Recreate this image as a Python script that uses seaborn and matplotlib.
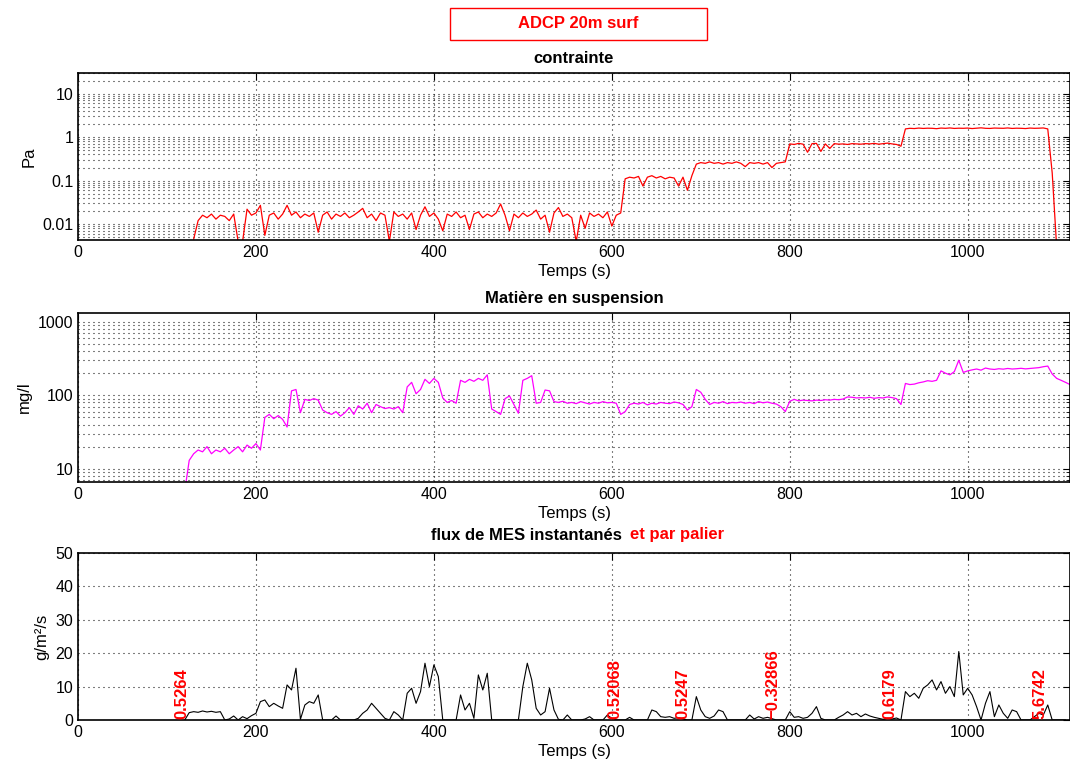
import numpy as np
import seaborn as sns
import matplotlib
matplotlib.use("Agg")
import matplotlib.pyplot as plt
from matplotlib.patches import Rectangle
from matplotlib.ticker import FixedLocator, LogLocator, NullFormatter, FuncFormatter, MultipleLocator

# ---- données (pas de 5 s) ----
# contrainte (Pa), t = 130 .. 1100 s
stress_t0 = 130
stress = [
    0.0045, 0.012, 0.016, 0.014, 0.017, 0.013, 0.016, 0.015, 0.012, 0.017,   # 130
    0.004, 0.004, 0.022, 0.016, 0.018, 0.027, 0.0055, 0.016, 0.018, 0.013,   # 180
    0.017, 0.027, 0.016, 0.019, 0.014, 0.017, 0.015, 0.018, 0.0065, 0.016,   # 230
    0.019, 0.013, 0.017, 0.015, 0.018, 0.014, 0.016, 0.019, 0.023, 0.014,    # 280
    0.017, 0.012, 0.018, 0.016, 0.004, 0.019, 0.015, 0.017, 0.013, 0.018,    # 330
    0.0075, 0.016, 0.025, 0.015, 0.018, 0.013, 0.007, 0.017, 0.015, 0.019,   # 380
    0.014, 0.016, 0.0075, 0.017, 0.019, 0.014, 0.017, 0.015, 0.018, 0.029,   # 430
    0.016, 0.007, 0.017, 0.014, 0.018, 0.015, 0.017, 0.021, 0.013, 0.016,    # 480
    0.0065, 0.018, 0.024, 0.015, 0.017, 0.014, 0.004, 0.016, 0.008, 0.018,   # 530
    0.015, 0.017, 0.014, 0.019, 0.009, 0.016, 0.018, 0.11, 0.12, 0.115,      # 580
    0.125, 0.075, 0.12, 0.13, 0.115, 0.125, 0.11, 0.12, 0.115, 0.075,        # 630
    0.12, 0.06, 0.13, 0.24, 0.26, 0.25, 0.27, 0.25, 0.26, 0.24,              # 680
    0.26, 0.25, 0.27, 0.25, 0.21, 0.26, 0.25, 0.26, 0.24, 0.26,              # 730
    0.20, 0.25, 0.26, 0.27, 0.70, 0.68, 0.72, 0.69, 0.45, 0.71,              # 780
    0.72, 0.47, 0.70, 0.55, 0.71, 0.69, 0.70, 0.68, 0.71, 0.70,              # 830
    0.69, 0.71, 0.70, 0.72, 0.69, 0.71, 0.73, 0.70, 0.68, 0.62,              # 880
    1.55, 1.60, 1.58, 1.62, 1.59, 1.61, 1.60, 1.57, 1.62, 1.60,              # 930
    1.63, 1.59, 1.61, 1.60, 1.62, 1.58, 1.61, 1.64, 1.60, 1.59,              # 980
    1.62, 1.61, 1.60, 1.63, 1.59, 1.61, 1.60, 1.58, 1.62, 1.60,              # 1030
    1.61, 1.63, 1.55, 0.15, 0.003,                                           # 1080
]

# matière en suspension (mg/l), t = 120 .. 1115 s
mes_t0 = 120
mes = [
    5, 13, 16, 18, 17, 20, 16, 18, 17, 19,            # 120
    16, 18, 20, 17, 21, 19, 22, 18, 50, 55,           # 170
    48, 53, 47, 37, 115, 120, 58, 88, 85, 90,         # 220
    86, 63, 58, 55, 60, 52, 58, 68, 55, 72,           # 270
    65, 78, 58, 75, 70, 66, 68, 65, 70, 58,           # 320
    130, 150, 105, 120, 165, 145, 170, 150, 92, 80,   # 370
    85, 78, 160, 150, 165, 155, 170, 160, 190, 65,    # 420
    60, 55, 90, 98, 75, 57, 160, 170, 185, 78,        # 470
    80, 118, 115, 82, 80, 83, 78, 80, 77, 82,         # 520
    79, 76, 80, 78, 82, 79, 80, 78, 55, 60,           # 570
    75, 78, 76, 80, 74, 78, 76, 80, 78, 77,           # 620
    81, 79, 75, 63, 70, 120, 110, 88, 75, 80,         # 670
    78, 82, 77, 80, 79, 81, 78, 80, 77, 82,           # 720
    79, 81, 78, 76, 70, 60, 83, 88, 84, 86,           # 770
    85, 84, 86, 85, 87, 86, 88, 87, 89, 95,           # 820
    94, 92, 93, 92, 94, 91, 93, 92, 95, 93,           # 870
    90, 75, 145, 140, 142, 148, 152, 158, 155, 160,   # 920
    215, 200, 190, 210, 300, 205, 215, 222, 228, 220, # 970
    235, 228, 225, 230, 227, 232, 228, 230, 233, 229, # 1020
    232, 235, 238, 245, 250, 195, 170, 160, 150, 140, # 1070
]

# flux de MES (g/m²/s), t = 120 .. 1110 s
flux_t0 = 120
flux = [
    0, 2.2, 2.5, 2.3, 2.7, 2.4, 2.6, 2.3, 2.5, 0,             # 120
    0.3, 1.2, 0, 1.0, 0.4, 1.3, 2.0, 5.5, 6.0, 4.0,           # 170
    5.0, 4.2, 3.5, 10.5, 9.0, 15.5, 0.2, 4.5, 5.5, 5.0,       # 220
    7.5, 0, 0, 0, 1.2, 0, 0, 0, 0, 0.5,                       # 270
    2.0, 3.0, 5.0, 3.5, 2.0, 0.5, 0, 2.5, 1.5, 0,             # 320
    8.0, 9.5, 5.0, 8.5, 17.0, 10.0, 16.5, 13.0, 0, 0,         # 370
    0, 0, 7.5, 3.0, 5.0, 0.5, 13.5, 9.0, 14.0, 0,             # 420
    0, 0, 0, 0, 0, 0, 10.0, 17.0, 12.0, 3.5,                  # 470
    1.5, 2.5, 9.5, 3.0, 0.2, 0, 1.5, 0, 0, 0,                 # 520
    0.3, 1.0, 0, 0, 0, 1.5, 0.5, 0, 0, 0,                     # 570
    0.8, 0, 0, 0, 0, 3.0, 2.5, 1.0, 0.8, 1.0,                 # 620
    0.5, 0.7, 0.3, 0, 0, 7.0, 3.0, 1.0, 0.5, 1.2,             # 670
    3.0, 2.5, 0, 0, 0, 0, 0, 1.5, 0.3, 1.0,                   # 720
    0.5, 0.8, 0.4, 0, 0, 0, 2.5, 0.8, 1.0, 0.5,               # 770
    0.8, 2.0, 4.0, 0.5, 0, 0, 0, 0.8, 1.5, 2.5,               # 820
    1.5, 2.0, 1.0, 1.8, 1.2, 0.8, 0.5, 0.2, 0.5, 0.3,         # 870
    0.6, 0, 8.5, 7.0, 8.0, 6.5, 9.5, 10.5, 12.0, 9.0,         # 920
    11.5, 8.0, 10.0, 7.0, 20.5, 7.5, 9.5, 7.5, 4.0, 0,        # 970
    5.0, 8.5, 1.0, 4.5, 2.0, 0.5, 3.0, 2.5, 0, 0,             # 1020
    0, 1.0, 2.0, 1.5, 4.5, 0, 0, 0, 0,                        # 1070
]

# flux moyens par palier
palier_t = [117, 603, 680, 781, 913, 1081]
palier_vals = [0.5264, 0.52068, 0.5247, -0.32866, 0.6179, 5.6742]

step = 5
t_stress = stress_t0 + step * np.arange(len(stress))
t_mes = mes_t0 + step * np.arange(len(mes))
t_flux = flux_t0 + step * np.arange(len(flux))

sns.set_style("white")
plt.rcParams["font.family"] = ["Liberation Sans", "DejaVu Sans"]
plt.rcParams["axes.linewidth"] = 1.2
for k in ("text.color", "axes.labelcolor", "xtick.color", "ytick.color", "axes.edgecolor"):
    plt.rcParams[k] = "black"

W, H = 1070, 767
fig = plt.figure(figsize=(W / 100, H / 100), dpi=100)

def box(top, bottom):
    return [78 / W, 1 - bottom / H, (W - 78) / W, (bottom - top) / H]

ax1 = fig.add_axes(box(73, 240))
ax2 = fig.add_axes(box(313, 482))
ax3 = fig.add_axes(box(553, 720))

dots = (0, (0.9, 3.6))
fmt_g = FuncFormatter(lambda v, _: f"{v:g}")

sns.lineplot(x=t_stress, y=stress, ax=ax1, color="#FF0000", linewidth=0.9, sort=False)
sns.lineplot(x=t_mes, y=mes, ax=ax2, color="#FF00FF", linewidth=0.9, sort=False)
sns.lineplot(x=t_flux, y=flux, ax=ax3, color="black", linewidth=0.8, sort=False)

for ax, lims, majors in [(ax1, (0.0043, 30), [0.01, 0.1, 1, 10]),
                         (ax2, (6.6, 1320), [10, 100, 1000])]:
    ax.set_yscale("log")
    ax.set_ylim(*lims)
    ax.yaxis.set_major_locator(FixedLocator(majors))
    ax.yaxis.set_major_formatter(fmt_g)
    ax.yaxis.set_minor_locator(LogLocator(base=10, subs=np.arange(2, 10), numticks=100))
    ax.yaxis.set_minor_formatter(NullFormatter())
    ax.grid(True, which="both", axis="y", color="black", linestyle=dots, linewidth=0.8)

ax3.set_ylim(0, 50)
ax3.yaxis.set_major_locator(MultipleLocator(10))
ax3.grid(True, which="major", axis="y", color="black", linestyle=dots, linewidth=0.8)

for ax in (ax1, ax2, ax3):
    ax.set_xlim(0, 1115)
    ax.xaxis.set_major_locator(MultipleLocator(200))
    ax.grid(True, which="major", axis="x", color="black", linestyle=dots, linewidth=0.8)
    ax.tick_params(which="both", direction="in", top=True, right=True, labelsize=11.5,
                   color="black", labelcolor="black")
    ax.tick_params(which="major", length=5)
    ax.tick_params(which="minor", length=3)
    ax.set_xlabel("Temps (s)", fontsize=12, labelpad=3)
    for s in ax.spines.values():
        s.set_color("black")

ax1.set_ylabel("Pa", fontsize=12)
ax2.set_ylabel("mg/l", fontsize=12)
ax3.set_ylabel("g/m²/s", fontsize=12)

ax1.set_title("contrainte", fontsize=12, fontweight="bold", pad=7)
ax2.set_title("Matière en suspension", fontsize=12, fontweight="bold", pad=7)
fig.text(622 / W, 1 - 535 / H, "flux de MES instantanés", ha="right", va="center",
         fontsize=12, fontweight="bold", color="black")
fig.text(630 / W, 1 - 535 / H, "et par palier", ha="left", va="center",
         fontsize=12, fontweight="bold", color="red")

for tp, v in zip(palier_t, palier_vals):
    lab = f"{v:g}".replace("-", "\u2212")
    ax3.text(tp, 0.4, lab, rotation=90, ha="center", va="bottom",
             color="red", fontsize=12, fontweight="bold")

# cadre du titre général
fig.add_artist(Rectangle((450 / W, 1 - 40 / H), 257 / W, 32 / H, transform=fig.transFigure,
                         fill=False, edgecolor="red", linewidth=1.0))
fig.text(578 / W, 1 - 24 / H, "ADCP 20m surf", ha="center", va="center",
         fontsize=12, fontweight="bold", color="red")

fig.savefig("out.png", dpi=100)
plt.close(fig)
